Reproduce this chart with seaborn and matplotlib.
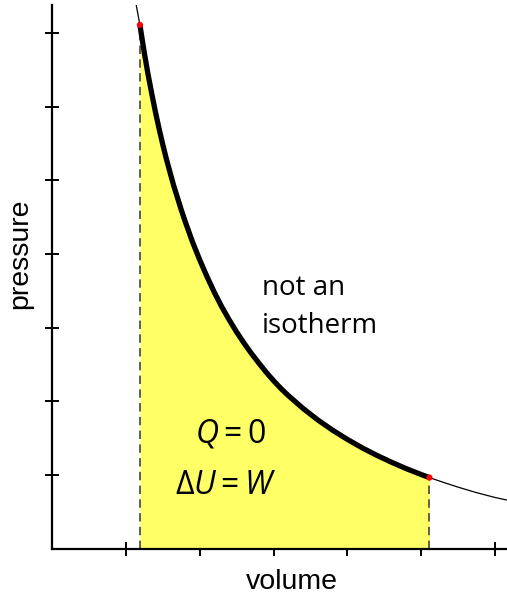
import matplotlib
matplotlib.use("Agg")
import matplotlib.pyplot as plt
import seaborn as sns
import pandas as pd

# curve (volume, pressure)
volume = [1.14, 1.19, 1.25, 1.30, 1.35, 1.40, 1.45, 1.50, 1.55, 1.60, 1.65, 1.70,
          1.75, 1.80, 1.85, 1.90, 1.95, 2.00, 2.10, 2.20, 2.30, 2.40, 2.50, 2.60,
          2.70, 2.80, 2.90, 3.00, 3.10, 3.20, 3.40, 3.60, 3.80, 4.00, 4.20, 4.40,
          4.60, 4.80, 5.00, 5.11, 5.30, 5.50, 5.75, 6.00, 6.16]
pressure = [7.38, 7.11, 6.73, 6.44, 6.18, 5.93, 5.70, 5.485, 5.285, 5.10, 4.92, 4.76,
            4.60, 4.45, 4.31, 4.17, 4.045, 3.92, 3.69, 3.475, 3.28, 3.105, 2.94, 2.79,
            2.65, 2.52, 2.395, 2.28, 2.174, 2.078, 1.903, 1.747, 1.608, 1.483, 1.369,
            1.266, 1.172, 1.085, 1.006, 0.965, 0.90, 0.835, 0.76, 0.695, 0.66]
# process end points
v_start, v_end = 1.19, 5.11
p_start, p_end = 7.11, 0.965
xticks = [1, 2, 3, 4, 5, 6]
yticks = [1, 2, 3, 4, 5, 6, 7]

sns.set_theme(style="white")
plt.rcParams['font.family'] = ['Liberation Sans', 'DejaVu Sans']
plt.rcParams['text.color'] = 'black'
plt.rcParams['mathtext.fontset'] = 'custom'
plt.rcParams['mathtext.it'] = 'Open Sans:italic'
plt.rcParams['mathtext.rm'] = 'Open Sans'

df = pd.DataFrame({"volume": volume, "pressure": pressure})
seg = df[(df.volume >= v_start - 1e-9) & (df.volume <= v_end + 1e-9)]

fig = plt.figure(figsize=(5.07, 5.99), dpi=100)
ax = fig.add_axes([52 / 507, (599 - 548.7) / 599, 1 - 52 / 507, (548.7 - 5) / 599])

ax.fill_between(seg.volume, seg.pressure, 0, color="#FFFF66", lw=0, zorder=1)
sns.lineplot(data=df, x="volume", y="pressure", sort=False, estimator=None,
             color="black", lw=0.9, ax=ax, zorder=3)
sns.lineplot(data=seg, x="volume", y="pressure", sort=False, estimator=None,
             color="black", lw=3.8, ax=ax, zorder=4, solid_capstyle="butt",
             solid_joinstyle="round")
for v, p in [(v_start, p_start), (v_end, p_end)]:
    ax.plot([v, v], [0, p], color="#333333", lw=1.1, ls=(0, (5.5, 3.5)), zorder=2)
ax.scatter([v_start, v_end], [p_start, p_end], s=20, color="red", zorder=5,
           edgecolors="none")

ax.set_xlim(0, 6.16)
ax.set_ylim(0, 7.38)
ax.set_xticks(xticks)
ax.set_yticks(yticks)
ax.set_xticklabels([])
ax.set_yticklabels([])
ax.tick_params(direction="inout", length=10, width=1.4, color="black",
               bottom=True, left=True)
for s in ["top", "right"]:
    ax.spines[s].set_visible(False)
for s in ["left", "bottom"]:
    ax.spines[s].set_color("black")
    ax.spines[s].set_linewidth(1.6)

ax.set_xlabel("")
ax.set_ylabel("")
fig.text(292 / 507, 1 - 582 / 599, "volume", fontsize=20.5, ha="center", va="center")
fig.text(20 / 507, 1 - 254 / 599, "pressure", fontsize=20.5, ha="center",
         va="center", rotation=90)

fig.text(262 / 507, 1 - 295 / 599, "not an", fontsize=20, family="Open Sans",
         ha="left", va="baseline")
fig.text(262 / 507, 1 - 333 / 599, "isotherm", fontsize=20, family="Open Sans",
         ha="left", va="baseline")
fig.text(231 / 507, 1 - 434 / 599, r"$Q = 0$", fontsize=23, ha="center", va="center")
fig.text(226 / 507, 1 - 486 / 599, r"$\Delta U = W$", fontsize=23, ha="center",
         va="center")

fig.savefig("out.png", dpi=100)
